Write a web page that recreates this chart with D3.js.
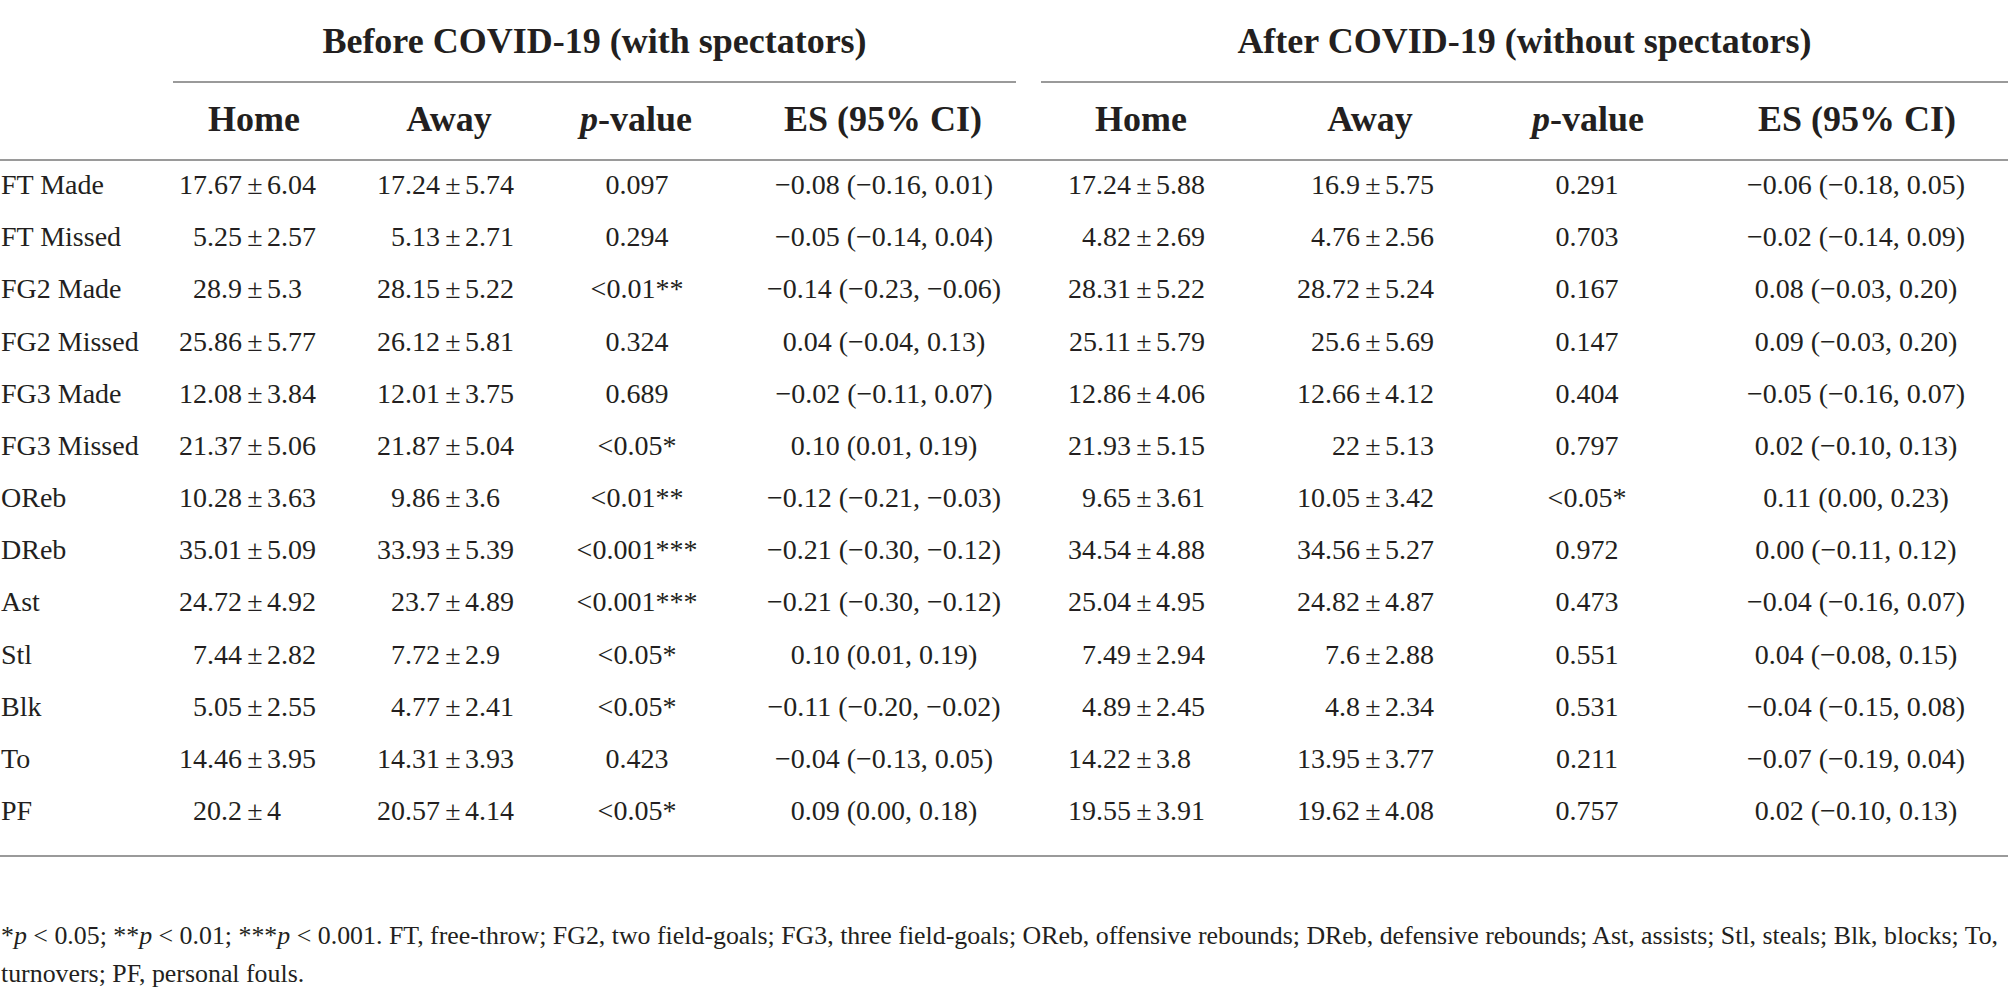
<!DOCTYPE html>
<html>
<head>
<meta charset="utf-8">
<script src="https://cdn.jsdelivr.net/npm/d3@7"></script>
<style>
  html, body { margin: 0; padding: 0; background: #ffffff; }
  svg { display: block; font-family: "Liberation Serif", "Times New Roman", serif; }
</style>
</head>
<body>
<script>
// ---------- DATA ----------
const categories = ["FT Made","FT Missed","FG2 Made","FG2 Missed","FG3 Made","FG3 Missed","OReb","DReb","Ast","Stl","Blk","To","PF"];

const groupLabels = ["Before COVID-19 (with spectators)", "After COVID-19 (without spectators)"];
const columnLabels = ["Home", "Away", "p-value", "ES (95% CI)"];

const beforeHomeMean = [17.67, 5.25, 28.9, 25.86, 12.08, 21.37, 10.28, 35.01, 24.72, 7.44, 5.05, 14.46, 20.2];
const beforeHomeSD   = [6.04, 2.57, 5.3, 5.77, 3.84, 5.06, 3.63, 5.09, 4.92, 2.82, 2.55, 3.95, 4];
const beforeAwayMean = [17.24, 5.13, 28.15, 26.12, 12.01, 21.87, 9.86, 33.93, 23.7, 7.72, 4.77, 14.31, 20.57];
const beforeAwaySD   = [5.74, 2.71, 5.22, 5.81, 3.75, 5.04, 3.6, 5.39, 4.89, 2.9, 2.41, 3.93, 4.14];
const beforeP        = ["0.097","0.294","<0.01**","0.324","0.689","<0.05*","<0.01**","<0.001***","<0.001***","<0.05*","<0.05*","0.423","<0.05*"];
const beforeES       = [-0.08, -0.05, -0.14, 0.04, -0.02, 0.10, -0.12, -0.21, -0.21, 0.10, -0.11, -0.04, 0.09];
const beforeCILow    = [-0.16, -0.14, -0.23, -0.04, -0.11, 0.01, -0.21, -0.30, -0.30, 0.01, -0.20, -0.13, 0.00];
const beforeCIHigh   = [0.01, 0.04, -0.06, 0.13, 0.07, 0.19, -0.03, -0.12, -0.12, 0.19, -0.02, 0.05, 0.18];

const afterHomeMean  = [17.24, 4.82, 28.31, 25.11, 12.86, 21.93, 9.65, 34.54, 25.04, 7.49, 4.89, 14.22, 19.55];
const afterHomeSD    = [5.88, 2.69, 5.22, 5.79, 4.06, 5.15, 3.61, 4.88, 4.95, 2.94, 2.45, 3.8, 3.91];
const afterAwayMean  = [16.9, 4.76, 28.72, 25.6, 12.66, 22, 10.05, 34.56, 24.82, 7.6, 4.8, 13.95, 19.62];
const afterAwaySD    = [5.75, 2.56, 5.24, 5.69, 4.12, 5.13, 3.42, 5.27, 4.87, 2.88, 2.34, 3.77, 4.08];
const afterP         = ["0.291","0.703","0.167","0.147","0.404","0.797","<0.05*","0.972","0.473","0.551","0.531","0.211","0.757"];
const afterES        = [-0.06, -0.02, 0.08, 0.09, -0.05, 0.02, 0.11, 0.00, -0.04, 0.04, -0.04, -0.07, 0.02];
const afterCILow     = [-0.18, -0.14, -0.03, -0.03, -0.16, -0.10, 0.00, -0.11, -0.16, -0.08, -0.15, -0.19, -0.10];
const afterCIHigh    = [0.05, 0.09, 0.20, 0.20, 0.07, 0.13, 0.23, 0.12, 0.07, 0.15, 0.08, 0.04, 0.13];

const footLine1 = [["*",0],["p",1],[" < 0.05; **",0],["p",1],[" < 0.01; ***",0],["p",1],[" < 0.001. FT, free-throw; FG2, two field-goals; FG3, three field-goals; OReb, offensive rebounds; DReb, defensive rebounds; Ast, assists; Stl, steals; Blk, blocks; To,",0]];
const footLine2 = "turnovers; PF, personal fouls.";

// ---------- LAYOUT ----------
const W = 2008, H = 996;
const ink = "#231f20";
const ruleColor = "#9a9a9a";
const bodySize = 28, headSize = 36;

const svg = d3.select("body").append("svg").attr("width", W).attr("height", H);

const y = d3.scalePoint().domain(categories).range([194, 820]);
const fmt = d3.format(".2f");

// column positions (anchor for each of the 8 data columns)
const colX = [255, 453, 637, 884, 1144, 1373, 1587, 1856];
const headX = [254, 449, 636, 883, 1141, 1370, 1588, 1857];
const groupSpans = [[173, 1016], [1041, 2008]];

// rules
const rules = [
  {x1: groupSpans[0][0], x2: groupSpans[0][1], y: 82},
  {x1: groupSpans[1][0], x2: groupSpans[1][1], y: 82},
  {x1: 0, x2: W, y: 160},
  {x1: 0, x2: W, y: 856}
];
svg.selectAll("line.rule").data(rules).join("line")
  .attr("class", "rule")
  .attr("x1", d => d.x1).attr("x2", d => d.x2)
  .attr("y1", d => d.y).attr("y2", d => d.y)
  .attr("stroke", ruleColor).attr("stroke-width", 2);

// group headers
svg.selectAll("text.group").data(groupLabels).join("text")
  .attr("class", "group")
  .attr("x", (d, i) => (groupSpans[i][0] + groupSpans[i][1]) / 2)
  .attr("y", 53)
  .attr("text-anchor", "middle")
  .attr("font-size", headSize).attr("font-weight", "bold").attr("fill", ink)
  .text(d => d);

// column headers
const headers = [];
[0, 1].forEach(g => columnLabels.forEach((c, j) => headers.push({label: c, x: headX[g * 4 + j]})));
const hText = svg.selectAll("text.colhead").data(headers).join("text")
  .attr("class", "colhead")
  .attr("x", d => d.x).attr("y", 131)
  .attr("text-anchor", "middle")
  .attr("font-size", headSize).attr("font-weight", "bold").attr("fill", ink);
hText.each(function(d) {
  const t = d3.select(this);
  if (d.label.startsWith("p-")) {
    t.append("tspan").attr("font-style", "italic").text("p");
    t.append("tspan").text(d.label.slice(1));
  } else {
    t.text(d.label);
  }
});

// row labels
svg.selectAll("text.rowlabel").data(categories).join("text")
  .attr("class", "rowlabel")
  .attr("x", 1).attr("y", d => y(d))
  .attr("font-size", bodySize).attr("fill", ink)
  .text(d => d);

// mean ± sd columns
const pmCols = [
  {x: colX[0], mean: beforeHomeMean, sd: beforeHomeSD},
  {x: colX[1], mean: beforeAwayMean, sd: beforeAwaySD},
  {x: colX[4], mean: afterHomeMean, sd: afterHomeSD},
  {x: colX[5], mean: afterAwayMean, sd: afterAwaySD}
];
pmCols.forEach((col, ci) => {
  const rows = categories.map((c, i) => ({cat: c, m: col.mean[i], s: col.sd[i]}));
  const g = svg.append("g").attr("class", "pm-col-" + ci);
  g.selectAll("text.m").data(rows).join("text").attr("class", "m")
    .attr("x", col.x - 13).attr("y", d => y(d.cat))
    .attr("text-anchor", "end").attr("font-size", bodySize).attr("fill", ink)
    .text(d => String(d.m));
  g.selectAll("text.pm").data(rows).join("text").attr("class", "pm")
    .attr("x", col.x).attr("y", d => y(d.cat))
    .attr("text-anchor", "middle").attr("font-size", bodySize).attr("fill", ink)
    .text("±");
  g.selectAll("text.s").data(rows).join("text").attr("class", "s")
    .attr("x", col.x + 12).attr("y", d => y(d.cat))
    .attr("text-anchor", "start").attr("font-size", bodySize).attr("fill", ink)
    .text(d => String(d.s));
});

// p-value columns
[[colX[2], beforeP], [colX[6], afterP]].forEach(([x, arr]) => {
  svg.append("g").selectAll("text").data(categories.map((c, i) => ({cat: c, v: arr[i]}))).join("text")
    .attr("x", x).attr("y", d => y(d.cat))
    .attr("text-anchor", "middle").attr("font-size", bodySize).attr("fill", ink)
    .text(d => d.v);
});

// ES columns
[[colX[3], beforeES, beforeCILow, beforeCIHigh], [colX[7], afterES, afterCILow, afterCIHigh]].forEach(([x, es, lo, hi]) => {
  svg.append("g").selectAll("text").data(categories.map((c, i) => ({cat: c, e: es[i], l: lo[i], h: hi[i]}))).join("text")
    .attr("x", x).attr("y", d => y(d.cat))
    .attr("text-anchor", "middle").attr("font-size", bodySize).attr("fill", ink)
    .text(d => `${fmt(d.e)} (${fmt(d.l)}, ${fmt(d.h)})`);
});

// footnote
const f1 = svg.append("text").attr("x", 1).attr("y", 944)
  .attr("font-size", bodySize).attr("fill", ink);
footLine1.forEach(([s, it]) => {
  const ts = f1.append("tspan").text(s);
  if (it) ts.attr("font-style", "italic");
});
const target = 1997;
let wNat = f1.node().getComputedTextLength();
let fSize = bodySize;
if (wNat > target) {
  fSize = bodySize * target / wNat;
  f1.attr("font-size", fSize);
  wNat = f1.node().getComputedTextLength();
}
const nChars = footLine1.map(d => d[0]).join("").length;
const ls = (target - wNat) / (nChars - 1);
f1.attr("letter-spacing", ls);

svg.append("text").attr("x", 1).attr("y", 982)
  .attr("font-size", fSize).attr("letter-spacing", ls).attr("fill", ink)
  .text(footLine2);
</script>
</body>
</html>
